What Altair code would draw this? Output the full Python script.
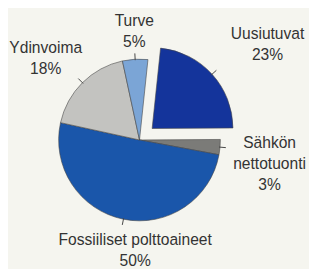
import altair as alt
import pandas as pd

# ---- data -------------------------------------------------------------
categories = ["Uusiutuvat", "Sähkön nettotuonti", "Fossiiliset polttoaineet", "Ydinvoima", "Turve"]
label_lines = ["Uusiutuvat\n23%", "Sähkön\nnettotuonti\n3%", "Fossiiliset polttoaineet\n50%", "Ydinvoima\n18%", "Turve\n5%"]
shares = [23, 3, 50, 18, 5]
exploded = [1, 0, 0, 0, 0]
colors = ["#14349b", "#7b7b78", "#1a56aa", "#c3c3c0", "#7ba5d6"]

df = pd.DataFrame({
    "category": categories,
    "label": label_lines,
    "share": shares,
    "explode": exploded,
    "order": list(range(len(categories))),
})

# ---- layout / style ---------------------------------------------------
W, H = 309, 261
CX, CY, R = 135, 132, 83
START = 0.1047          # rotation of the first slice (radians)
EXPLODE = 17.5          # pull-out distance of exploded slice
TICK_IN, TICK_OUT = 82, 89
LABEL_R = 118
LH = 21.5
# offsets of the label block centre from the radial anchor
label_offsets = {
    "Uusiutuvat": (31, -7),
    "Sähkön nettotuonti": (16, 14),
    "Fossiiliset polttoaineet": (19, -2),
    "Ydinvoima": (-13, 0),
    "Turve": (1, 7),
}
FONT = "Liberation Sans"
TEXT_COLOR = "#333333"

base = (
    alt.Chart(df)
    .transform_joinaggregate(total="sum(share)")
    .transform_window(cum="sum(share)", sort=[alt.SortField("order")], frame=[None, 0])
    .transform_calculate(t1=f"{START} + 2*PI*datum.cum/datum.total")
    .transform_calculate(t0="datum.t1 - 2*PI*datum.share/datum.total")
    .transform_calculate(mid="(datum.t0 + datum.t1)/2")
    .transform_calculate(cx=f"{CX} + datum.explode*{EXPLODE}*sin(datum.mid)")
    .transform_calculate(cy=f"{CY} - datum.explode*{EXPLODE}*cos(datum.mid)")
)

arcs = base.mark_arc(radius=R, stroke="#454545", strokeWidth=0.6).encode(
    x=alt.X("cx:Q", scale=None, axis=None),
    y=alt.Y("cy:Q", scale=None, axis=None),
    theta=alt.Theta("t0:Q", scale=None, stack=None),
    theta2="t1:Q",
    color=alt.Color("category:N", scale=alt.Scale(domain=categories, range=colors), legend=None),
)

ticks = (
    base.transform_calculate(tx0=f"datum.cx + {TICK_IN}*sin(datum.mid)")
    .transform_calculate(ty0=f"datum.cy - {TICK_IN}*cos(datum.mid)")
    .transform_calculate(tx1=f"datum.cx + {TICK_OUT}*sin(datum.mid)")
    .transform_calculate(ty1=f"datum.cy - {TICK_OUT}*cos(datum.mid)")
    .mark_rule(color="#444444", strokeWidth=1)
    .encode(
        x=alt.X("tx0:Q", scale=None, axis=None),
        y=alt.Y("ty0:Q", scale=None, axis=None),
        x2="tx1:Q",
        y2="ty1:Q",
    )
)

label_layers = []
for cat, (dx, dy) in label_offsets.items():
    n_lines = label_lines[categories.index(cat)].count("\n") + 1
    first_dy = dy - (n_lines - 1) * LH / 2
    label_layers.append(
        base.transform_filter(alt.datum.category == cat)
        .transform_calculate(lx=f"datum.cx + {LABEL_R}*sin(datum.mid)")
        .transform_calculate(ly=f"datum.cy - {LABEL_R}*cos(datum.mid)")
        .mark_text(
            dx=dx, dy=first_dy, align="center", baseline="middle",
            font=FONT, fontSize=16, lineHeight=LH, lineBreak="\n", color=TEXT_COLOR,
        )
        .encode(
            x=alt.X("lx:Q", scale=None, axis=None),
            y=alt.Y("ly:Q", scale=None, axis=None),
            text="label:N",
        )
    )

chart = (
    alt.layer(arcs, ticks, *label_layers)
    .properties(width=W, height=H, autosize=alt.AutoSizeParams(type="none"), padding=0, background="#f5f5ef")
    .configure_view(stroke=None)
)

chart.save("out.html", embed_options={"renderer": "svg", "actions": False})
